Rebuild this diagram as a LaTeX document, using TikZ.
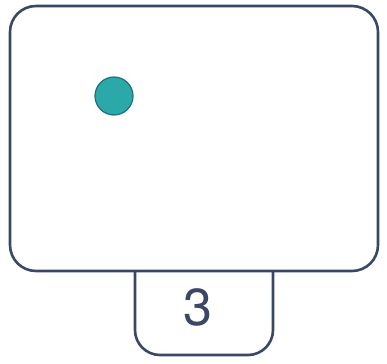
\documentclass[tikz,border=0pt]{standalone}
\usepackage{fontspec}
\setmainfont{TeX Gyre Heros}
\definecolor{inkc}{HTML}{3A4866}
\definecolor{dotc}{HTML}{2BA8A8}
\definecolor{dotedge}{HTML}{1E6F78}
\begin{document}
\begin{tikzpicture}[x=1pt,y=-1pt,
  outline/.style={draw=inkc,line width=2.6pt,line join=round},
  dotstyle/.style={circle,fill=dotc,draw=dotedge,line width=1.2pt,minimum size=38pt,inner sep=0pt},
  numlabel/.style={text=inkc,font=\fontsize{52}{52}\selectfont,inner sep=0pt}]
\useasboundingbox (0,0) rectangle (387,363);
% tab
\draw[outline,rounded corners=25pt] (135,271) -- (135,355) -- (273,355) -- (273,271);
% main box
\draw[outline,rounded corners=26pt] (10,6) rectangle (378,271);
\node[dotstyle] (dot) at (114,96) {};
\node[numlabel] (num) at (198,307) {3};
\end{tikzpicture}
\end{document}
